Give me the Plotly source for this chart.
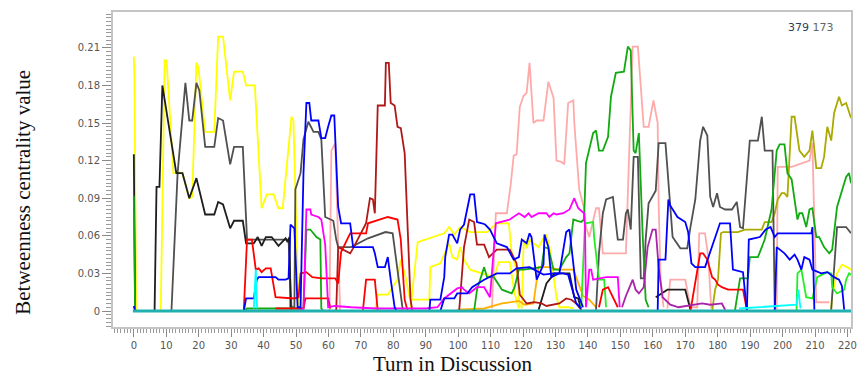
import plotly.graph_objects as go

# ---------------- data (turn, betweenness value) ----------------
yellow1_x = [0.0, 0.2, 0.7, 8.3, 9.5, 10.1, 12.2, 13.5, 15.0, 17.1, 18.0, 19.3, 19.9, 22.0, 24.8, 26.0, 27.5,
             29.7, 30.9, 33.6, 34.6, 37.3, 39.4, 41.0, 43.1, 44.6, 45.9, 48.6, 49.2, 49.8, 50.2, 50.8]
yellow1_y = [0.203, 0.185, 0.0, 0.0, 0.200, 0.200, 0.110, 0.111, 0.110, 0.090, 0.091, 0.198, 0.195, 0.143, 0.143, 0.219, 0.219,
             0.168, 0.191, 0.191, 0.180, 0.180, 0.082, 0.093, 0.093, 0.082, 0.082, 0.155, 0.152, 0.083, 0.059, 0.003]

yellowB_x = [74.3, 75.2, 78.3, 81.3, 82.3, 83.8, 85.0, 85.9, 91.1, 91.4, 94.5, 95.7, 97.2, 98.2, 99.7, 100.6, 101.8,
             103.7, 111.0, 112.5, 115.9, 117.4, 118.7]
yellowB_y = [0.0, 0.013, 0.013, 0.025, 0.041, 0.027, 0.011, 0.009, 0.009, 0.035, 0.038, 0.045, 0.054, 0.043, 0.041, 0.051, 0.041,
             0.033, 0.027, 0.039, 0.039, 0.014, 0.002]

yellowC_x = [85.3, 87.5, 95.7, 97.2, 98.8, 100.6, 103.7, 108.9, 111.9, 115.6, 116.5, 118.0, 119.0]
yellowC_y = [0.002, 0.055, 0.062, 0.067, 0.061, 0.067, 0.063, 0.063, 0.070, 0.070, 0.046, 0.033, 0.003]

yellowD_x = [119.6, 120.2, 121.1, 122.0, 123.2, 124.8, 126.3, 127.2, 128.1, 129.4, 130.3, 131.2, 133.9, 135.5]
yellowD_y = [0.002, 0.057, 0.050, 0.057, 0.054, 0.051, 0.058, 0.061, 0.052, 0.030, 0.011, 0.003, 0.003, 0.002]

yellowL_x = [215.0, 215.3, 216.8, 218.3, 219.9, 221.1]
yellowL_y = [0.001, 0.013, 0.030, 0.037, 0.035, 0.033]

grayA_x = [11.6, 13.5, 15.9, 17.1, 18.0, 19.3, 20.2, 22.0, 24.8, 26.0, 27.5, 29.7, 30.9, 33.6, 34.9, 46.2, 47.7, 48.6,
           49.5, 49.8, 51.4, 52.3, 53.8, 55.4, 56.9, 57.8, 59.0, 61.5, 62.4, 63.0, 67.0, 72.2, 77.6, 79.8, 80.7, 82.9]
grayA_y = [0.0, 0.110, 0.182, 0.152, 0.152, 0.182, 0.176, 0.131, 0.131, 0.154, 0.152, 0.117, 0.131, 0.131, 0.057, 0.057, 0.057, 0.003,
           0.003, 0.097, 0.110, 0.137, 0.151, 0.143, 0.143, 0.137, 0.075, 0.072, 0.057, 0.051, 0.051, 0.058, 0.063, 0.062, 0.043, 0.001]

blackB_x = [0.0, 0.4, 6.4, 7.0, 7.9, 8.8, 13.1, 15.0, 17.1, 19.3, 22.0, 24.8, 26.0, 27.5, 29.7, 30.9, 33.6, 34.6, 37.0,
            38.2, 39.4, 40.7, 42.5, 44.6, 46.8, 47.4, 48.0, 48.3, 48.6]
blackB_y = [0.125, 0.0, 0.0, 0.099, 0.099, 0.180, 0.110, 0.110, 0.090, 0.106, 0.077, 0.077, 0.087, 0.085, 0.066, 0.072, 0.072, 0.054, 0.054,
            0.059, 0.052, 0.059, 0.059, 0.052, 0.058, 0.055, 0.059, 0.003, 0.0]

blackM_x = [124.8, 125.7, 126.3, 127.2, 129.7, 134.3, 135.8, 137.0, 137.9]
blackM_y = [0.001, 0.010, 0.014, 0.022, 0.030, 0.030, 0.011, 0.010, 0.001]

blackL_x = [160.9, 164.5, 170.0, 171.6]
blackL_y = [0.011, 0.017, 0.017, 0.001]

grayL_x = [142.5, 143.4, 144.6, 145.6, 147.7, 148.6, 149.2, 150.8, 151.7, 152.3, 153.2, 154.1, 155.4, 156.3, 157.2, 157.8,
           158.7, 160.9, 161.8, 163.9, 165.4, 166.1, 168.5, 170.6, 171.6, 173.1, 174.6, 175.5, 176.8, 177.7, 178.6, 179.8,
           180.7, 182.3, 184.4, 185.9, 186.9, 187.8, 189.9, 192.4, 193.6, 194.5, 195.4, 196.9, 197.6]
grayL_y = [0.001, 0.046, 0.078, 0.089, 0.091, 0.073, 0.057, 0.057, 0.078, 0.081, 0.065, 0.123, 0.123, 0.026, 0.026, 0.057,
           0.086, 0.096, 0.134, 0.134, 0.083, 0.059, 0.050, 0.050, 0.067, 0.089, 0.136, 0.147, 0.140, 0.091, 0.083, 0.094,
           0.083, 0.081, 0.081, 0.087, 0.067, 0.066, 0.136, 0.136, 0.155, 0.128, 0.128, 0.128, 0.001]

grayL2_x = [215.0, 216.8, 219.6, 221.1]
grayL2_y = [0.001, 0.067, 0.067, 0.062]

blue1_x = [0.0, 0.4, 33.9, 34.6, 37.0, 37.9, 38.5, 43.7, 44.6, 46.8, 47.7, 48.3, 49.5, 50.5, 51.4, 52.3, 53.2, 54.1, 54.7,
           56.9, 57.8, 59.0, 59.9, 60.9, 61.8, 63.0, 63.9, 66.7, 67.6, 73.7, 74.3, 75.2, 77.4, 78.3, 79.2, 80.4, 81.0,
           91.1, 91.4, 94.5, 95.7, 96.0, 97.2, 98.2, 99.7, 100.6, 101.8, 102.8, 103.7, 104.9, 105.8, 107.3, 108.3, 109.8,
           111.9, 115.0, 117.1, 118.7, 119.6, 121.1, 122.0, 122.6, 123.2, 124.2, 126.3, 126.6, 127.8, 128.7, 131.2,
           133.3, 134.3, 136.4, 138.5]
blue1_y = [0.004, 0.0, 0.0, 0.010, 0.010, 0.025, 0.027, 0.027, 0.025, 0.025, 0.026, 0.069, 0.066, 0.003, 0.003, 0.110, 0.166, 0.166, 0.152,
           0.152, 0.138, 0.138, 0.147, 0.156, 0.156, 0.083, 0.070, 0.070, 0.051, 0.051, 0.046, 0.035, 0.035, 0.043, 0.025, 0.003, 0.0,
           0.0, 0.009, 0.009, 0.027, 0.043, 0.061, 0.061, 0.054, 0.065, 0.069, 0.083, 0.093, 0.093, 0.071, 0.070, 0.069, 0.065,
           0.054, 0.051, 0.041, 0.043, 0.057, 0.054, 0.062, 0.059, 0.046, 0.025, 0.037, 0.061, 0.051, 0.027, 0.030,
           0.063, 0.065, 0.017, 0.003]

blue2_x = [94.5, 95.7, 98.8, 99.7, 102.8, 104.3, 108.0, 111.9, 115.9, 118.0, 122.0, 126.3, 129.4, 132.4, 133.9, 136.4, 137.9]
blue2_y = [0.0, 0.010, 0.010, 0.014, 0.014, 0.019, 0.025, 0.030, 0.030, 0.034, 0.035, 0.029, 0.030, 0.030, 0.029, 0.006, 0.002]

blue3_x = [161.5, 161.8, 163.9, 164.5, 164.8, 165.4, 167.6, 170.0, 170.9, 171.9, 173.1, 176.1, 179.2, 180.7, 183.8,
           184.7, 187.8, 189.0]
blue3_y = [0.0, 0.041, 0.041, 0.078, 0.089, 0.084, 0.075, 0.071, 0.063, 0.038, 0.035, 0.035, 0.059, 0.070, 0.070,
           0.033, 0.031, 0.0]

blue4_x = [189.0, 189.6, 193.0, 194.8, 196.3, 197.6, 198.5, 201.5, 205.2, 208.9, 209.2, 209.8]
blue4_y = [0.0, 0.057, 0.059, 0.065, 0.067, 0.059, 0.062, 0.062, 0.062, 0.062, 0.067, 0.001]

blue5_x = [197.6, 198.2, 200.6, 202.2, 203.7, 204.6, 205.8, 206.7, 208.3, 209.2, 211.9, 213.8, 215.9, 217.4, 218.3, 219.0]
blue5_y = [0.0, 0.051, 0.046, 0.041, 0.045, 0.041, 0.033, 0.043, 0.041, 0.033, 0.030, 0.031, 0.027, 0.025, 0.020, 0.001]

red1_x = [33.9, 34.9, 36.4, 37.6, 38.5, 39.4, 40.7, 42.2, 43.7, 49.5, 50.8, 51.4, 53.2, 55.0, 58.0, 62.1, 63.0, 63.9,
          66.7, 71.6, 72.2, 78.3, 81.3, 82.3, 83.5, 84.4]
red1_y = [0.0, 0.057, 0.057, 0.033, 0.034, 0.031, 0.034, 0.034, 0.011, 0.010, 0.011, 0.030, 0.031, 0.027, 0.026, 0.026, 0.022, 0.047,
          0.062, 0.062, 0.070, 0.075, 0.073, 0.057, 0.009, 0.0]

red2_x = [70.6, 71.6, 74.3, 75.2]
red2_y = [0.0, 0.025, 0.025, 0.0]

red3_x = [43.7, 52.3, 52.9, 59.9, 60.6]
red3_y = [0.002, 0.002, 0.010, 0.010, 0.002]

red4_x = [143.4, 144.6, 146.2, 147.7, 149.2]
red4_y = [0.003, 0.017, 0.019, 0.011, 0.003]

red5_x = [171.6, 173.7, 174.6, 175.5, 176.8, 178.3, 179.2, 180.1, 181.3, 183.2, 187.8, 189.0]
red5_y = [0.0, 0.030, 0.046, 0.046, 0.041, 0.027, 0.025, 0.021, 0.019, 0.017, 0.017, 0.001]

darkred1_x = [62.4, 63.0, 66.7, 67.6, 71.6, 72.8, 73.7, 74.3, 75.2, 77.4, 77.7, 78.6, 79.2, 80.4, 81.3, 82.3, 83.5,
              84.4, 85.3, 85.9]
darkred1_y = [0.0, 0.051, 0.046, 0.050, 0.070, 0.090, 0.089, 0.078, 0.164, 0.164, 0.198, 0.198, 0.166, 0.164, 0.147, 0.146, 0.126,
              0.067, 0.009, 0.0]

darkred2_x = [100.3, 101.8, 103.4, 104.9, 105.8, 108.0, 109.5, 111.9, 115.9, 118.0, 119.0, 121.1, 123.5, 125.7, 127.2,
              131.2, 133.3, 134.9, 136.4, 137.9]
darkred2_y = [0.0, 0.051, 0.073, 0.071, 0.053, 0.053, 0.043, 0.049, 0.049, 0.038, 0.013, 0.006, 0.007, 0.006, 0.004,
              0.006, 0.010, 0.009, 0.006, 0.001]

pink0_x = [60.3, 60.9, 62.1, 63.0, 63.6]
pink0_y = [0.0, 0.128, 0.134, 0.057, 0.0]

pink1_x = [110.4, 111.6, 115.0, 116.2, 117.1, 118.0, 119.0, 120.2, 121.1, 122.0, 123.2, 124.2, 126.3, 127.8, 129.4,
           130.3, 131.8, 132.7, 133.9, 135.5, 135.8, 137.3, 138.8, 139.4, 140.4, 142.5, 143.4, 144.6, 151.7, 153.8,
           155.4, 156.3, 157.2, 158.7, 160.2, 161.5, 161.8, 162.4, 163.3]
pink1_y = [0.002, 0.078, 0.078, 0.101, 0.124, 0.125, 0.163, 0.172, 0.174, 0.198, 0.150, 0.152, 0.152, 0.183, 0.170,
           0.120, 0.119, 0.117, 0.166, 0.168, 0.150, 0.097, 0.082, 0.067, 0.059, 0.082, 0.082, 0.046, 0.046, 0.211,
           0.211, 0.182, 0.147, 0.147, 0.168, 0.150, 0.086, 0.025, 0.003]

pink2_x = [164.5, 165.4, 170.0, 171.6, 173.7, 174.3, 176.1, 177.1, 178.0]
pink2_y = [0.002, 0.025, 0.025, 0.003, 0.003, 0.062, 0.062, 0.043, 0.002]

pink3_x = [198.2, 198.5, 202.8, 208.3, 209.2, 209.8, 210.4, 214.4]
pink3_y = [0.001, 0.115, 0.115, 0.120, 0.134, 0.062, 0.007, 0.007]

green1_x = [0.0, 0.4, 34.0, 34.9, 47.7, 50.8, 52.3, 53.2, 54.4, 56.3, 57.5, 57.8, 58.5]
green1_y = [0.092, 0.0, 0.0, 0.002, 0.002, 0.002, 0.002, 0.065, 0.065, 0.059, 0.057, 0.002, 0.0]

green2_x = [104.9, 105.8, 108.0, 108.9, 111.0, 113.5, 116.5, 117.4, 118.7, 120.2, 125.7, 126.6, 127.8, 129.4, 131.2,
            133.3, 134.3, 135.5, 137.9, 138.8, 139.4, 140.4, 141.6, 142.5, 143.4, 144.6, 146.2, 147.1, 148.6, 151.1,
            152.3, 153.2, 154.1, 154.7, 155.7, 156.9, 157.8, 158.7]
green2_y = [0.0, 0.017, 0.035, 0.027, 0.027, 0.017, 0.014, 0.019, 0.033, 0.033, 0.035, 0.051, 0.050, 0.033, 0.033,
            0.043, 0.046, 0.073, 0.071, 0.073, 0.118, 0.128, 0.142, 0.144, 0.128, 0.128, 0.139, 0.171, 0.190, 0.191,
            0.211, 0.208, 0.128, 0.126, 0.142, 0.059, 0.009, 0.003]

green3_x = [185.3, 186.9, 189.3, 189.9, 192.4, 194.5, 196.6, 198.2, 199.1, 200.6, 201.5, 202.8, 204.6, 205.2, 206.1,
            207.3, 208.3, 209.2, 210.4, 211.3, 212.8, 214.4, 215.3, 216.8, 219.0, 219.6, 220.5, 221.1]
green3_y = [0.0, 0.026, 0.026, 0.043, 0.043, 0.057, 0.081, 0.128, 0.133, 0.133, 0.110, 0.105, 0.073, 0.078, 0.078,
            0.067, 0.081, 0.082, 0.059, 0.059, 0.051, 0.046, 0.049, 0.083, 0.102, 0.107, 0.110, 0.102]

lime1_x = [137.9, 139.1, 141.6, 141.9, 143.4, 145.0, 145.6]
lime1_y = [0.001, 0.070, 0.071, 0.059, 0.025, 0.025, 0.003]

lime2_x = [204.3, 204.6, 205.8, 207.3, 209.2, 210.7, 212.2, 213.8, 215.0, 215.3, 216.8, 219.0, 219.6, 220.5, 221.1]
lime2_y = [0.0, 0.030, 0.033, 0.011, 0.010, 0.027, 0.029, 0.031, 0.030, 0.019, 0.014, 0.017, 0.025, 0.030, 0.029]

magenta_x = [50.5, 52.3, 53.2, 54.4, 54.7, 56.9, 57.8, 59.0, 59.9, 62.0, 67.0, 75.0, 90.0, 93.6, 95.7, 99.7, 101.2,
             101.8, 103.4, 104.9, 105.8, 108.0, 109.8, 111.6, 115.9, 118.7, 120.5, 121.7, 122.6, 124.8, 127.2, 128.1,
             129.4, 130.3, 132.4, 134.3, 135.8, 137.0, 138.8, 139.1, 139.4, 140.4, 141.0, 141.6, 145.6, 147.7, 149.2, 149.8]
magenta_y = [0.0, 0.002, 0.081, 0.081, 0.077, 0.075, 0.073, 0.053, 0.003, 0.004, 0.003, 0.002, 0.002, 0.003, 0.010, 0.018, 0.019,
             0.017, 0.014, 0.017, 0.019, 0.019, 0.011, 0.070, 0.073, 0.078, 0.075, 0.078, 0.075, 0.078, 0.078, 0.075,
             0.078, 0.077, 0.078, 0.081, 0.090, 0.082, 0.078, 0.067, 0.003, 0.033, 0.033, 0.025, 0.027, 0.027, 0.027, 0.003]

purple_x = [150.5, 151.7, 153.8, 154.7, 155.7, 157.2, 158.4, 159.9, 160.9, 161.8, 163.0, 165.4, 167.9, 173.7, 175.2,
            177.7, 180.1, 181.3, 182.3]
purple_y = [0.003, 0.012, 0.025, 0.017, 0.014, 0.019, 0.051, 0.065, 0.065, 0.035, 0.011, 0.005, 0.003, 0.005, 0.006,
            0.005, 0.006, 0.006, 0.001]

olive_x = [178.3, 179.2, 180.1, 181.0, 181.7, 186.2, 188.4, 193.6, 194.5, 196.6, 197.6, 198.5, 199.7, 200.6, 201.5,
           202.8, 203.7, 205.2, 206.7, 208.3, 209.2, 210.4, 211.9, 212.8, 213.8, 215.0, 215.9, 217.4, 218.3, 219.6, 221.1]
olive_y = [0.0, 0.017, 0.025, 0.062, 0.063, 0.063, 0.065, 0.065, 0.071, 0.071, 0.078, 0.089, 0.094, 0.094, 0.091,
           0.155, 0.155, 0.128, 0.123, 0.128, 0.144, 0.114, 0.114, 0.123, 0.147, 0.136, 0.158, 0.171, 0.164, 0.166, 0.154]

orange_x = [99.7, 108.0, 113.5, 118.7, 120.5, 123.2, 124.5, 124.8, 128.1, 130.9, 135.5, 137.0, 138.5, 140.4, 142.5]
orange_y = [0.001, 0.002, 0.006, 0.008, 0.005, 0.006, 0.030, 0.035, 0.035, 0.033, 0.033, 0.022, 0.012, 0.009, 0.003]

cyan1_x = [37.0, 37.6, 38.0]
cyan1_y = [0.002, 0.033, 0.002]

cyan2_x = [186.6, 197.6, 204.3, 204.9, 205.5]
cyan2_y = [0.002, 0.004, 0.005, 0.017, 0.002]

base_x = [-0.3, 221.1]
base_y = [0.0, 0.0]

# ---------------- styling ----------------
YELLOW = "#FFFF00"
GRAY = "#505050"
BLACK = "#1e1e1e"
BLUE = "#0000FF"
RED = "#FF0000"
DARKRED = "#B01818"
PINK = "#FFAAAA"
GREEN = "#11AA11"
LIME = "#22EE22"
MAGENTA = "#FF00FF"
PURPLE = "#AA22AA"
OLIVE = "#AAAA00"
ORANGE = "#FFB000"
CYAN = "#00FFFF"
TEAL = "#20B0B0"

series = [
    (pink0_x, pink0_y, PINK), (pink1_x, pink1_y, PINK), (pink2_x, pink2_y, PINK), (pink3_x, pink3_y, PINK),
    (olive_x, olive_y, OLIVE),
    (yellow1_x, yellow1_y, YELLOW), (yellowB_x, yellowB_y, YELLOW), (yellowC_x, yellowC_y, YELLOW),
    (yellowD_x, yellowD_y, YELLOW), (yellowL_x, yellowL_y, YELLOW),
    (orange_x, orange_y, ORANGE),
    (grayA_x, grayA_y, GRAY), (grayL_x, grayL_y, GRAY), (grayL2_x, grayL2_y, GRAY),
    (blackB_x, blackB_y, BLACK), (blackM_x, blackM_y, BLACK), (blackL_x, blackL_y, BLACK),
    (green1_x, green1_y, GREEN), (green2_x, green2_y, GREEN), (green3_x, green3_y, GREEN),
    (lime1_x, lime1_y, LIME), (lime2_x, lime2_y, LIME),
    (darkred1_x, darkred1_y, DARKRED), (darkred2_x, darkred2_y, DARKRED),
    (red1_x, red1_y, RED), (red2_x, red2_y, RED), (red3_x, red3_y, RED), (red4_x, red4_y, RED), (red5_x, red5_y, RED),
    (magenta_x, magenta_y, MAGENTA), (purple_x, purple_y, PURPLE),
    (blue1_x, blue1_y, BLUE), (blue2_x, blue2_y, BLUE), (blue3_x, blue3_y, BLUE), (blue4_x, blue4_y, BLUE),
    (blue5_x, blue5_y, BLUE),
    (cyan1_x, cyan1_y, CYAN), (cyan2_x, cyan2_y, CYAN),
]

fig = go.Figure()
for xs, ys, col in series:
    fig.add_trace(go.Scatter(x=xs, y=ys, mode="lines", line=dict(color=col, width=1.8),
                             hoverinfo="skip", showlegend=False))
fig.add_trace(go.Scatter(x=base_x, y=base_y, mode="lines", line=dict(color=TEAL, width=3),
                         hoverinfo="skip", showlegend=False))

tickfont = dict(family="DejaVu Sans", size=10, color="#555555")
fig.update_layout(
    width=857, height=376,
    margin=dict(l=113, r=0, t=12, b=49),
    paper_bgcolor="white", plot_bgcolor="white",
    showlegend=False,
    xaxis=dict(range=[-6.42, 221.1], showgrid=False, zeroline=False,
               showline=True, linecolor="#C4C4C4", linewidth=2, mirror=True,
               ticks="outside", ticklen=8, tickcolor="#8a8a8a", tick0=0, dtick=10,
               tickfont=tickfont, ticklabeloverflow="allow",
               minor=dict(ticks="outside", ticklen=4, dtick=1, tick0=0, tickcolor="#9a9a9a", showgrid=False)),
    yaxis=dict(range=[-0.01277, 0.2386], showgrid=False, zeroline=False,
               showline=True, linecolor="#C4C4C4", linewidth=2, mirror=True,
               ticks="outside", ticklen=9, tickcolor="#8a8a8a", tick0=0, dtick=0.03,
               tickfont=tickfont,
               minor=dict(ticks="outside", ticklen=5, dtick=0.003, tick0=0, tickcolor="#9a9a9a", showgrid=False)),
    annotations=[
        dict(text="Betweenness centrality value", xref="paper", yref="paper", x=-0.1223, y=0.4286,
             textangle=-90, showarrow=False, xanchor="center", yanchor="middle",
             font=dict(family="Liberation Serif", size=21, color="#111111")),
        dict(text="Turn in Discussion", xref="paper", yref="paper", x=0.461, y=-0.1175,
             showarrow=False, xanchor="center", yanchor="middle",
             font=dict(family="Liberation Serif", size=21, color="#111111")),
        dict(text='<span style="color:#2d3d5c">379</span> <span style="color:#666666">173</span>',
             xref="paper", yref="paper", x=(817 - 113) / 744, y=(327 - 27) / 315,
             showarrow=False, xanchor="center", yanchor="middle",
             font=dict(family="DejaVu Sans", size=11, color="#444444")),
    ],
)

fig.write_html("out.html")
